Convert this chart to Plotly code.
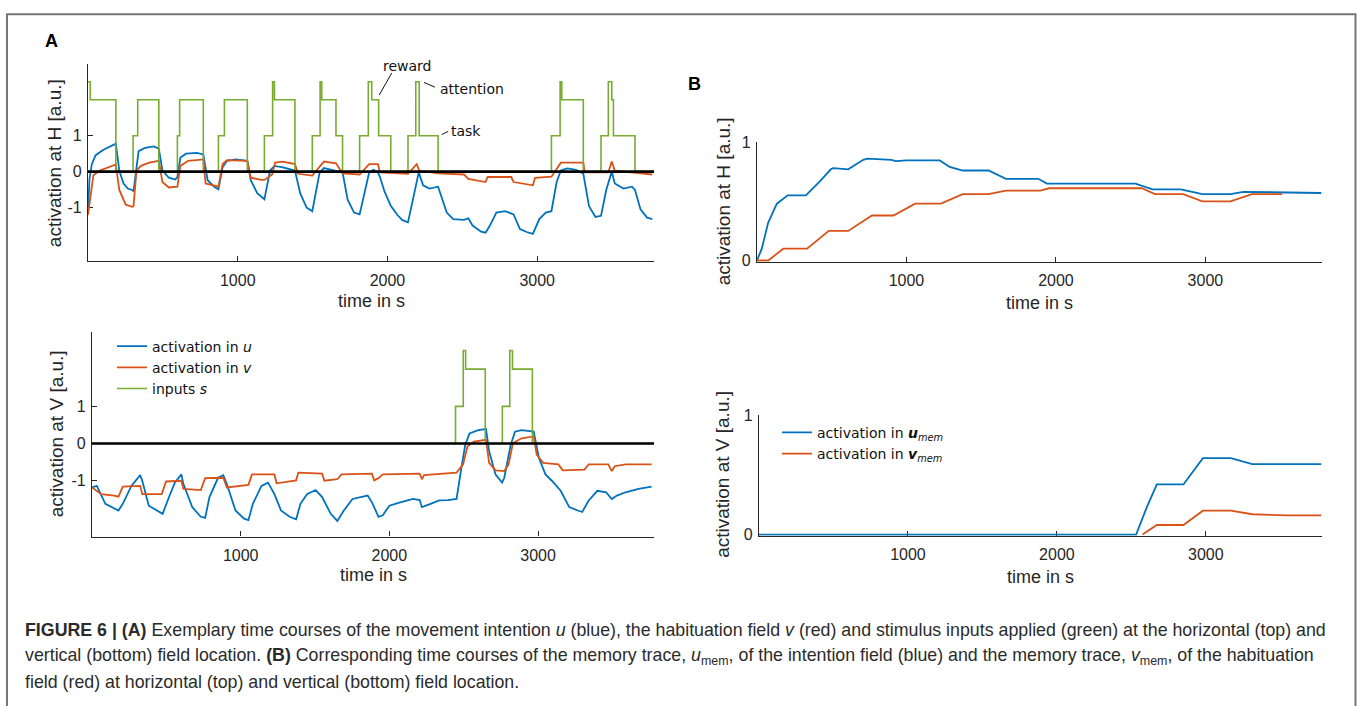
import plotly.graph_objects as go

W, H = 1357, 706

# ---------------- data ----------------
# Panel A top: activation at horizontal location H
uH_t = [0, 10, 25, 50, 100, 150, 186, 209, 237, 266, 295, 304, 338, 381, 439, 473, 497, 540, 583, 597,
        617, 655, 727, 770, 799, 842, 871, 899, 928, 986, 1064, 1087, 1130, 1178, 1216, 1245, 1302, 1382,
        1417, 1460, 1498, 1547, 1576, 1648, 1700, 1734, 1777, 1814, 1878, 1907, 1936, 1950, 1980, 2022,
        2065, 2100, 2137, 2209, 2238, 2281, 2338, 2396, 2439, 2511, 2540, 2568, 2626, 2655, 2684, 2727,
        2785, 2842, 2885, 2929, 2971, 3014, 3057, 3095, 3130, 3158, 3201, 3259, 3308, 3346, 3389, 3426,
        3461, 3498, 3518, 3576, 3633, 3653, 3690, 3734, 3769]
uH_v = [-1.1, -0.2, 0.2, 0.45, 0.6, 0.7, 0.78, 0.03, -0.33, -0.47, -0.51, -0.55, 0.57, 0.66, 0.70, 0.64,
        0.03, -0.17, -0.22, -0.15, 0.39, 0.5, 0.52, 0.48, -0.24, -0.42, -0.49, 0.12, 0.30, 0.34, 0.30,
        -0.24, -0.6, -0.77, 0.03, 0.16, 0.12, 0.03, -0.6, -1.0, -1.1, -0.02, 0.1, 0.03, -0.02, -0.78,
        -1.14, -1.19, -0.02, 0.05, -0.02, -0.15, -0.55, -0.95, -1.2, -1.35, -1.41, -0.02, -0.38, -0.47,
        -0.42, -1.14, -1.32, -1.34, -1.3, -1.5, -1.67, -1.7, -1.5, -1.14, -1.1, -1.19, -1.6, -1.68,
        -1.73, -1.32, -1.14, -1.1, -0.29, 0.03, 0.09, 0.05, -0.06, -0.96, -1.26, -1.23, -0.51, 0.0,
        -0.33, -0.47, -0.42, -0.51, -1.05, -1.28, -1.32]

vH_t = [0, 36, 79, 137, 186, 209, 252, 295, 304, 324, 353, 410, 473, 497, 540, 597, 617, 669, 770, 785,
        871, 899, 928, 1064, 1087, 1159, 1178, 1230, 1250, 1302, 1382, 1403, 1498, 1561, 1576, 1656,
        1700, 1814, 1878, 1936, 1950, 2137, 2195, 2212, 2338, 2511, 2540, 2655, 2669, 2827, 2842, 2971,
        2986, 3095, 3158, 3308, 3317, 3475, 3498, 3518, 3769]
vH_v = [-1.2, -0.1, 0.03, 0.12, 0.2, -0.51, -0.92, -0.98, -0.96, 0.03, 0.16, 0.25, 0.3, -0.29, -0.44,
        -0.42, 0.16, 0.3, 0.34, -0.33, -0.42, 0.21, 0.32, 0.3, -0.17, -0.23, -0.23, -0.08, 0.25, 0.28,
        0.21, -0.06, -0.11, 0.21, 0.28, 0.23, -0.05, -0.08, 0.21, 0.21, -0.02, -0.06, 0.21, 0.03, -0.05,
        -0.08, -0.2, -0.29, -0.15, -0.15, -0.29, -0.38, -0.17, -0.14, 0.25, 0.25, -0.02, -0.02, 0.28,
        0.03, -0.08]

# stimulus inputs s at H (step starts and levels)
sH_t = [0, 15, 186, 301, 332, 473, 597, 612, 770, 871, 911, 1064, 1178, 1233, 1245, 1382, 1498, 1550,
        1561, 1656, 1700, 1814, 1872, 1895, 1941, 2022, 2137, 2189, 2212, 2338, 3095, 3153, 3164, 3308,
        3426, 3475, 3498, 3509, 3653, 3780]
sH_v = [2.5, 2, 0, 1, 2, 0, 1, 2, 0, 1, 2, 0, 1, 2.5, 2, 0, 1, 2.5, 2, 1, 0, 1, 2.5, 2, 1, 0, 1, 2.5, 1,
        0, 1, 2.5, 2, 0, 1, 2.5, 2, 1, 0, 0]

# Panel A bottom: activation at vertical location V
uV_t = [0, 32, 90, 149, 178, 207, 265, 324, 338, 382, 440, 475, 513, 557, 601, 615, 674, 732, 761, 790,
        848, 883, 907, 965, 1023, 1052, 1082, 1140, 1184, 1227, 1271, 1329, 1373, 1402, 1446, 1504,
        1548, 1606, 1650, 1694, 1752, 1810, 1854, 1883, 1927, 1956, 2000, 2073, 2160, 2204, 2219, 2277,
        2335, 2394, 2452, 2481, 2510, 2539, 2598, 2650, 2671, 2714, 2758, 2773, 2816, 2845, 2889, 2971,
        3006, 3050, 3093, 3152, 3210, 3268, 3297, 3341, 3399, 3458, 3496, 3531, 3589, 3676, 3764]
uV_v = [-1.18, -1.14, -1.62, -1.75, -1.8, -1.62, -1.14, -0.85, -1.0, -1.67, -1.8, -1.89, -1.49, -1.05,
        -0.83, -1.09, -1.71, -1.97, -2.0, -1.44, -0.92, -0.85, -1.09, -1.8, -2.02, -2.06, -1.62, -1.14,
        -1.05, -1.36, -1.8, -1.97, -2.04, -1.62, -1.36, -1.25, -1.44, -1.89, -2.08, -1.8, -1.49, -1.43,
        -1.4, -1.58, -1.97, -1.93, -1.67, -1.58, -1.49, -1.52, -1.71, -1.62, -1.53, -1.52, -1.49, -0.74,
        -0.04, 0.27, 0.36, 0.39, -0.21, -0.83, -1.05, -0.92, -0.04, 0.32, 0.36, 0.32, -0.39, -0.83,
        -1.0, -1.27, -1.71, -1.8, -1.84, -1.53, -1.27, -1.31, -1.49, -1.4, -1.31, -1.22, -1.16]

vV_t = [0, 61, 149, 178, 207, 324, 338, 469, 498, 601, 615, 732, 761, 883, 907, 1052, 1076, 1227, 1242,
        1373, 1388, 1548, 1563, 1650, 1679, 1883, 1898, 1927, 1956, 2204, 2219, 2233, 2452, 2496, 2525,
        2568, 2650, 2671, 2714, 2773, 2802, 2831, 2889, 2971, 2991, 3035, 3137, 3166, 3312, 3341, 3472,
        3496, 3516, 3589, 3764]
vV_v = [-1.18, -1.36, -1.4, -1.43, -1.16, -1.14, -1.36, -1.36, -1.02, -1.0, -1.22, -1.25, -0.93, -0.92,
        -1.18, -1.11, -0.83, -0.83, -1.07, -0.99, -0.78, -0.81, -1.0, -0.96, -0.83, -0.81, -0.99, -0.93,
        -0.83, -0.81, -0.96, -0.85, -0.78, -0.56, -0.08, 0.05, 0.1, -0.52, -0.72, -0.74, -0.56, 0.01,
        0.14, 0.19, -0.3, -0.52, -0.56, -0.72, -0.7, -0.56, -0.56, -0.74, -0.61, -0.56, -0.56]

sV_t = [0, 2445, 2497, 2513, 2645, 2760, 2810, 2828, 2962, 3780]
sV_v = [0, 1, 2.5, 2, 0, 1, 2.5, 2, 0, 0]

# Panel B top: memory traces at H
umH_t = [0, 32, 75, 133, 205, 327, 422, 494, 509, 610, 711, 740, 899, 928, 1000, 1223, 1289, 1376, 1549,
         1665, 1882, 1939, 2532, 2647, 2835, 2980, 3168, 3254, 3775]
umH_v = [0, 0.1, 0.32, 0.48, 0.55, 0.55, 0.67, 0.77, 0.78, 0.77, 0.85, 0.86, 0.85, 0.84, 0.845, 0.845,
         0.79, 0.76, 0.76, 0.69, 0.69, 0.65, 0.65, 0.6, 0.6, 0.56, 0.56, 0.58, 0.57]
vmH_t = [0, 75, 176, 335, 480, 610, 769, 913, 1058, 1231, 1376, 1549, 1665, 1896, 1954, 2575, 2662, 2850,
         2980, 3168, 3312, 3514]
vmH_v = [0, 0, 0.1, 0.1, 0.25, 0.25, 0.38, 0.38, 0.48, 0.48, 0.56, 0.56, 0.59, 0.59, 0.61, 0.61, 0.56,
         0.56, 0.5, 0.5, 0.56, 0.56]

# Panel B bottom: memory traces at V
umV_t = [0, 2532, 2604, 2671, 2850, 2936, 2980, 3168, 3312, 3543, 3775]
umV_v = [0, 0, 0.23, 0.42, 0.42, 0.56, 0.64, 0.64, 0.59, 0.59, 0.59]
vmV_t = [2575, 2671, 2850, 2980, 3168, 3312, 3543, 3775]
vmV_v = [0, 0.08, 0.08, 0.2, 0.2, 0.17, 0.16, 0.16]

x_ticks = [1000, 2000, 3000]
yA_ticks = [-1, 0, 1]
yA_ticktext = ["-1", "0", "1"]
yB_ticks = [0, 1]
yB_ticktext = ["0", "1"]

# labels of the input types in panel A top: (text, x, y, anchor) and leader lines
input_labels = [("reward", 2133, 2.95, "center"), ("attention", 2337, 2.29, "left"), ("task", 2411, 1.13, "left")]
leader_lines = [(2028, 2.74, 1945, 2.13), (2244, 2.48, 2317, 2.35), (2362, 1.03, 2406, 1.12)]

for a, b in [(uH_t, uH_v), (vH_t, vH_v), (sH_t, sH_v), (uV_t, uV_v), (vV_t, vV_v), (sV_t, sV_v),
             (umH_t, umH_v), (vmH_t, vmH_v), (umV_t, umV_v), (vmV_t, vmV_v)]:
    assert len(a) == len(b), (len(a), len(b))

# ---------------- styling ----------------
BLUE, RED, GREEN, AX = "#0072BD", "#D95319", "#77AC30", "#262626"
TICKFONT = "Liberation Sans, Arial, sans-serif"
LEGFONT = "DejaVu Sans, sans-serif"
LW = 1.8


def px(x):
    return x / W


def py(y):
    return 1 - y / H


fig = go.Figure()

# panel A top
fig.add_trace(go.Scatter(x=uH_t, y=uH_v, mode="lines", line=dict(color=BLUE, width=LW), showlegend=False, xaxis="x", yaxis="y"))
fig.add_trace(go.Scatter(x=vH_t, y=vH_v, mode="lines", line=dict(color=RED, width=LW), showlegend=False, xaxis="x", yaxis="y"))
fig.add_trace(go.Scatter(x=sH_t, y=sH_v, mode="lines", line=dict(color=GREEN, width=1.6, shape="hv"), showlegend=False, xaxis="x", yaxis="y"))
# panel A bottom (with legend)
fig.add_trace(go.Scatter(x=uV_t, y=uV_v, mode="lines", line=dict(color=BLUE, width=LW), name="activation in <i>u</i>", legend="legend", xaxis="x2", yaxis="y2"))
fig.add_trace(go.Scatter(x=vV_t, y=vV_v, mode="lines", line=dict(color=RED, width=LW), name="activation in <i>v</i>", legend="legend", xaxis="x2", yaxis="y2"))
fig.add_trace(go.Scatter(x=sV_t, y=sV_v, mode="lines", line=dict(color=GREEN, width=1.6, shape="hv"), name="inputs <i>s</i>", legend="legend", xaxis="x2", yaxis="y2"))
# panel B top
fig.add_trace(go.Scatter(x=umH_t, y=umH_v, mode="lines", line=dict(color=BLUE, width=LW), showlegend=False, xaxis="x3", yaxis="y3"))
fig.add_trace(go.Scatter(x=vmH_t, y=vmH_v, mode="lines", line=dict(color=RED, width=LW), showlegend=False, xaxis="x3", yaxis="y3"))
# panel B bottom (with legend)
fig.add_trace(go.Scatter(x=umV_t, y=umV_v, mode="lines", line=dict(color=BLUE, width=LW), name="activation in <b><i>u</i></b><sub><i>mem</i></sub>", legend="legend2", xaxis="x4", yaxis="y4"))
fig.add_trace(go.Scatter(x=vmV_t, y=vmV_v, mode="lines", line=dict(color=RED, width=LW), name="activation in <b><i>v</i></b><sub><i>mem</i></sub>", legend="legend2", xaxis="x4", yaxis="y4"))


def xax(x0, x1, y_anchor):
    return dict(domain=[px(x0), px(x1)], range=[0, 3780], anchor=y_anchor, tickvals=x_ticks,
                showline=True, linecolor=AX, linewidth=1.3, ticks="inside", ticklen=5, tickwidth=1.2,
                tickcolor=AX, showgrid=False, zeroline=False, layer="below traces", ticklabelstandoff=4,
                tickfont=dict(family=TICKFONT, size=16, color=AX))


def yax(y_top, y_bot, rng, tv, tt, x_anchor):
    return dict(domain=[py(y_bot), py(y_top)], range=rng, anchor=x_anchor, tickvals=tv, ticktext=tt,
                showline=True, linecolor=AX, linewidth=1.3, ticks="inside", ticklen=5, tickwidth=1.2,
                tickcolor=AX, showgrid=False, zeroline=False, layer="below traces", ticklabelstandoff=2,
                tickfont=dict(family=TICKFONT, size=16, color=AX))


annotations = []


def txt(s, x, y, size, family=TICKFONT, color=AX, angle=0, xanchor="center", bold=False):
    annotations.append(dict(text=("<b>%s</b>" % s) if bold else s, x=px(x), y=py(y), xref="paper", yref="paper",
                            xanchor=xanchor, yanchor="middle", showarrow=False, textangle=angle,
                            font=dict(family=family, size=size, color=color)))


# panel labels
txt("A", 51.5, 33.5, 18, family="Liberation Sans, Arial", color="#000", bold=True)
txt("B", 694, 78, 18, family="Liberation Sans, Arial", color="#000", bold=True)
# axis titles
for xc, yc in [(371, 299), (373, 579), (1039.5, 301), (1040.5, 581)]:
    txt("time in s", xc, yc, 18)
txt("activation at H [a.u.]", 54.5, 158, 19, angle=-90)
txt("activation at V [a.u.]", 56, 435.5, 19, angle=-90)
txt("activation at H [a.u.]", 723, 197.5, 19, angle=-90)
txt("activation at V [a.u.]", 723, 477, 19, angle=-90)

# input type labels (data coordinates of panel A top)
for s, xv, yv, anc in input_labels:
    annotations.append(dict(text=s, x=xv, y=yv, xref="x", yref="y", xanchor=anc, yanchor="middle",
                            showarrow=False, font=dict(family=LEGFONT, size=14, color="#111")))

# caption
CAP = "Liberation Sans, Arial, sans-serif"
cap_lines = [
    "<b>FIGURE 6 | (A)</b> Exemplary time courses of the movement intention <i>u</i> (blue), the habituation field <i>v</i> (red) and stimulus inputs applied (green) at the horizontal (top) and",
    "vertical (bottom) field location. <b>(B)</b> Corresponding time courses of the memory trace, <i>u</i><sub>mem</sub>, of the intention field (blue) and the memory trace, <i>v</i><sub>mem</sub>, of the habituation",
    "field (red) at horizontal (top) and vertical (bottom) field location.",
]
for line, yc in zip(cap_lines, [635.7, 663.0, 688.3]):
    txt(line, 23, yc, 17.8, family=CAP, color="#2b2b2b", xanchor="left")

shapes = []
# zero lines in panel A
for xr, yr in [("x domain", "y"), ("x2 domain", "y2")]:
    shapes.append(dict(type="line", xref=xr, yref=yr, x0=0, x1=1, y0=0, y1=0, layer="above",
                       line=dict(color="#000", width=2.6)))
for x0, y0, x1, y1 in leader_lines:
    shapes.append(dict(type="line", xref="x", yref="y", x0=x0, y0=y0, x1=x1, y1=y1, layer="above",
                       line=dict(color="#111", width=1)))
# figure frame (open at the bottom, as in the reference)
shapes.append(dict(type="rect", xref="paper", yref="paper", x0=px(7), x1=px(1355.5), y0=py(740), y1=py(6.5),
                   line=dict(color="#777777", width=2), fillcolor="rgba(0,0,0,0)", layer="below"))

legend_common = dict(bgcolor="rgba(0,0,0,0)", borderwidth=0, xanchor="left", yanchor="top",
                     font=dict(family=LEGFONT, size=14, color="#111"), itemwidth=30, tracegroupgap=0)

fig.update_layout(
    width=W, height=H, autosize=False, margin=dict(l=0, r=0, t=0, b=0),
    paper_bgcolor="white", plot_bgcolor="white",
    xaxis=xax(88, 654, "y"), yaxis=yax(57, 259, [-2.5, 3], yA_ticks, yA_ticktext, "x"),
    xaxis2=xax(92, 654, "y2"), yaxis2=yax(331, 540, [-2.5, 3], yA_ticks, yA_ticktext, "x2"),
    xaxis3=xax(757, 1322, "y3"), yaxis3=yax(137, 259.2, [-0.01, 1], yB_ticks, yB_ticktext, "x3"),
    xaxis4=xax(759, 1322, "y4"), yaxis4=yax(416, 539.2, [-0.01, 1], yB_ticks, yB_ticktext, "x4"),
    legend=dict(x=px(112), y=py(329.5), **legend_common),
    legend2=dict(x=px(777), y=py(417.7), **legend_common),
    annotations=annotations, shapes=shapes,
)

fig.write_html("out.html", config={"displayModeBar": False})
